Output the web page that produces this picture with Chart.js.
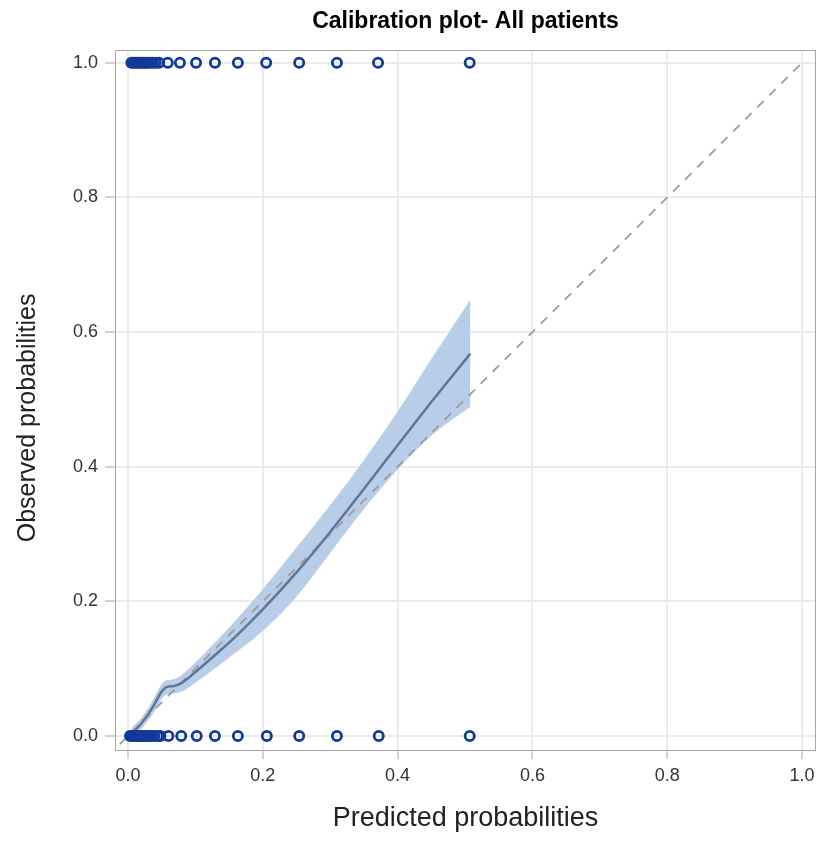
<!DOCTYPE html>
<html lang="en">
<head>
  <meta charset="UTF-8" />
  <title>Calibration plot- All patients</title>
  <script src="https://cdn.jsdelivr.net/npm/chart.js"></script>
  <style>
    body {
      margin: 0;
      background: white;
    }
    canvas {
      display: block;
    }
  </style>
</head>
<body>
  <canvas id="calib" width="825" height="842"></canvas>

  <script>
    // events (observed = 1)
    const eventsX = [0.005, 0.008, 0.011, 0.014, 0.017, 0.02, 0.023, 0.026, 0.029, 0.033, 0.037, 0.041, 0.046,
                     0.059, 0.077, 0.101, 0.129, 0.163, 0.205, 0.254, 0.31, 0.371, 0.507];
    // non-events (observed = 0), bottom row
    const nonEventsX = [0.003, 0.006, 0.009, 0.012, 0.015, 0.018, 0.021, 0.024, 0.027, 0.031, 0.035, 0.039, 0.044, 0.048,
                        0.06, 0.079, 0.102, 0.129, 0.163, 0.206, 0.254, 0.31, 0.372, 0.507];

    // smoothed calibration curve + confidence band
    const fitX  = [0.005, 0.02, 0.035, 0.05, 0.058, 0.067, 0.08, 0.1, 0.13, 0.16, 0.2, 0.25, 0.3, 0.35, 0.4, 0.45, 0.508];
    const fitY  = [0.003, 0.019, 0.040, 0.066, 0.073, 0.074, 0.079, 0.095, 0.121, 0.148, 0.188, 0.243, 0.303, 0.367, 0.432, 0.496, 0.568];
    const upper = [0.012, 0.027, 0.050, 0.077, 0.083, 0.084, 0.091, 0.109, 0.140, 0.172, 0.218, 0.280, 0.343, 0.410, 0.482, 0.560, 0.648];
    const lower = [-0.004, 0.011, 0.030, 0.055, 0.062, 0.063, 0.066, 0.079, 0.101, 0.124, 0.156, 0.207, 0.272, 0.337, 0.396, 0.446, 0.489];

    // perfect calibration reference line
    const refX = [-0.03, 1.0];
    const refY = [-0.03, 1.0];

    const tickValues = [0, 0.2, 0.4, 0.6, 0.8, 1.0];

    const pts = (xs, ys) => xs.map((x, i) => ({ x: x, y: ys[i] }));
    const row = (xs, v) => xs.map(x => ({ x: x, y: v }));

    Chart.defaults.font.family = '"Liberation Sans", Arial, sans-serif';

    // grey frame all round the plot area
    const frame = {
      id: "frame",
      afterDraw(chart) {
        const { ctx, chartArea: a } = chart;
        ctx.save();
        ctx.strokeStyle = "#a6a6a6";
        ctx.lineWidth = 1;
        ctx.strokeRect(a.left + 0.5, a.top + 0.5, a.right - a.left - 1, a.bottom - a.top - 1);
        ctx.restore();
      }
    };

    const fixTicks = scale => {
      scale.ticks = tickValues.map(v => ({ value: v }));
    };

    new Chart(document.getElementById("calib"), {
      type: "scatter",
      data: {
        datasets: [
          {
            label: "events",
            data: row(eventsX, 1),
            pointStyle: "circle",
            pointRadius: 4.6,
            pointBorderWidth: 2.8,
            borderColor: "#12389a",
            backgroundColor: "rgba(0,0,0,0)",
            showLine: false,
            order: 0
          },
          {
            label: "non-events",
            data: row(nonEventsX, 0),
            pointStyle: "circle",
            pointRadius: 4.6,
            pointBorderWidth: 2.8,
            borderColor: "#12389a",
            backgroundColor: "rgba(0,0,0,0)",
            showLine: false,
            order: 0
          },
          {
            label: "fit",
            data: pts(fitX, fitY),
            showLine: true,
            borderColor: "#5f7599",
            borderWidth: 2.5,
            pointRadius: 0,
            cubicInterpolationMode: "monotone",
            fill: false,
            order: 1
          },
          {
            label: "reference",
            data: pts(refX, refY),
            showLine: true,
            borderColor: "#9c9c9c",
            borderWidth: 1.8,
            borderDash: [9, 8],
            pointRadius: 0,
            fill: false,
            order: 2
          },
          {
            label: "upper",
            data: pts(fitX, upper),
            showLine: true,
            borderWidth: 0,
            borderColor: "rgba(0,0,0,0)",
            backgroundColor: "#b8cee8",
            pointRadius: 0,
            cubicInterpolationMode: "monotone",
            fill: "+1",
            order: 4
          },
          {
            label: "lower",
            data: pts(fitX, lower),
            showLine: true,
            borderWidth: 0,
            borderColor: "rgba(0,0,0,0)",
            pointRadius: 0,
            cubicInterpolationMode: "monotone",
            fill: false,
            order: 3
          }
        ]
      },
      options: {
        responsive: false,
        animation: false,
        devicePixelRatio: 1,
        layout: { padding: { left: 0, right: 9, top: 0, bottom: 0 } },
        plugins: {
          legend: { display: false },
          tooltip: { enabled: false },
          title: {
            display: true,
            fullSize: false,
            text: "Calibration plot- All patients",
            color: "#000",
            font: { size: 23, weight: "bold" },
            padding: { top: 8, bottom: 14.4 }
          }
        },
        scales: {
          x: {
            type: "linear",
            min: -0.0193,
            max: 1.0208,
            afterBuildTicks: fixTicks,
            afterFit: s => { s.height = 91; },
            border: { display: false },
            grid: { color: "#ebebeb", lineWidth: 2, tickColor: "#a6a6a6", tickLength: 8, tickWidth: 1 },
            ticks: { color: "#333", font: { size: 18 }, padding: 6, maxRotation: 0, callback: v => v.toFixed(1) },
            title: {
              display: true,
              text: "Predicted probabilities",
              color: "#222",
              font: { size: 27 },
              padding: { top: 0, bottom: 7 }
            }
          },
          y: {
            type: "linear",
            min: -0.0223,
            max: 1.019,
            afterBuildTicks: fixTicks,
            afterFit: s => { s.width = 115; },
            border: { display: false },
            grid: { color: "#ebebeb", lineWidth: 2, tickColor: "#a6a6a6", tickLength: 10, tickWidth: 1 },
            ticks: { color: "#333", font: { size: 18 }, padding: 7, callback: v => v.toFixed(1) },
            title: {
              display: true,
              text: "Observed probabilities     ",
              color: "#222",
              font: { size: 25 },
              padding: { top: 13, bottom: 0 }
            }
          }
        }
      },
      plugins: [frame]
    });
  </script>
</body>
</html>
